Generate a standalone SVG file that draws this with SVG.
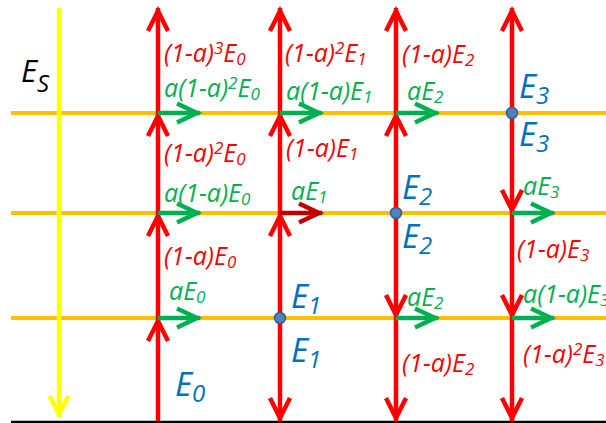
<svg xmlns="http://www.w3.org/2000/svg" width="606" height="423" viewBox="0 0 606 423">
<style>
text{font-family:"Open Sans","Liberation Sans",sans-serif;font-style:italic;font-size:25px}
.r{fill:#FF0000}.g{fill:#00B050}.b{fill:#0070C0;font-size:33px}.k{fill:#000;font-size:31px}
.s{font-size:17px}.bs{font-size:24px}
.red{stroke:#FF0000;stroke-width:4.5;fill:none}
.grn{stroke:#00B050;stroke-width:4.5;fill:none}
.drd{stroke:#C00000;stroke-width:4.5;fill:none}
.org{stroke:#FFC000;stroke-width:4;fill:none}
.dot{fill:#4F81BD;stroke:#385D8A;stroke-width:1.5}
</style>
<defs>
<marker id="mr" viewBox="-26 -14 30 28" refX="0" refY="0" markerWidth="30" markerHeight="28" markerUnits="userSpaceOnUse" orient="auto"><path d="M-23,-10 L-3,0 L-23,10" fill="none" stroke="#FF0000" stroke-width="4.5"/></marker>
<marker id="mg" viewBox="-26 -14 30 28" refX="0" refY="0" markerWidth="30" markerHeight="28" markerUnits="userSpaceOnUse" orient="auto"><path d="M-23,-9.5 L-3,0 L-23,9.5" fill="none" stroke="#00B050" stroke-width="4.5"/></marker>
<marker id="md" viewBox="-26 -14 30 28" refX="0" refY="0" markerWidth="30" markerHeight="28" markerUnits="userSpaceOnUse" orient="auto"><path d="M-23,-9.5 L-3,0 L-23,9.5" fill="none" stroke="#C00000" stroke-width="4.5"/></marker>
<marker id="my" viewBox="-26 -14 30 28" refX="0" refY="0" markerWidth="30" markerHeight="28" markerUnits="userSpaceOnUse" orient="auto"><path d="M-21,-9.5 L-3,0 L-21,9.5" fill="none" stroke="#FFFF00" stroke-width="4.5"/></marker>
</defs>
<g id="layers">
<line x1="11" y1="422" x2="606" y2="422" stroke="#000" stroke-width="2.5"/>
<line class="org" x1="11" y1="113" x2="606" y2="113"/>
<line class="org" x1="11" y1="213" x2="606" y2="213"/>
<line class="org" x1="11" y1="318" x2="606" y2="318"/>
</g>
<g id="connectors">
<line x1="59" y1="8" x2="59" y2="417" stroke="#FFFF00" stroke-width="4.5" marker-end="url(#my)"/>
<line class="red" x1="158" y1="421" x2="158" y2="318" marker-end="url(#mr)"/>
<line class="red" x1="158" y1="318" x2="158" y2="213" marker-end="url(#mr)"/>
<line class="red" x1="158" y1="213" x2="158" y2="113" marker-end="url(#mr)"/>
<line class="red" x1="158" y1="113" x2="158" y2="8" marker-end="url(#mr)"/>
<line class="red" x1="280" y1="318" x2="280" y2="421" marker-end="url(#mr)"/>
<line class="red" x1="280" y1="318" x2="280" y2="213" marker-end="url(#mr)"/>
<line class="red" x1="280" y1="213" x2="280" y2="113" marker-end="url(#mr)"/>
<line class="red" x1="280" y1="113" x2="280" y2="8" marker-end="url(#mr)"/>
<line class="red" x1="396" y1="213" x2="396" y2="113" marker-end="url(#mr)"/>
<line class="red" x1="396" y1="113" x2="396" y2="8" marker-end="url(#mr)"/>
<line class="red" x1="396" y1="213" x2="396" y2="318" marker-end="url(#mr)"/>
<line class="red" x1="396" y1="318" x2="396" y2="421" marker-end="url(#mr)"/>
<line class="red" x1="512" y1="113" x2="512" y2="8" marker-end="url(#mr)"/>
<line class="red" x1="512" y1="113" x2="512" y2="213" marker-end="url(#mr)"/>
<line class="red" x1="512" y1="213" x2="512" y2="318" marker-end="url(#mr)"/>
<line class="red" x1="512" y1="318" x2="512" y2="421" marker-end="url(#mr)"/>
<line class="grn" x1="158" y1="113" x2="200" y2="113" marker-end="url(#mg)"/>
<line class="grn" x1="280" y1="113" x2="322" y2="113" marker-end="url(#mg)"/>
<line class="grn" x1="396" y1="113" x2="438" y2="113" marker-end="url(#mg)"/>
<line class="grn" x1="158" y1="213" x2="200" y2="213" marker-end="url(#mg)"/>
<line class="drd" x1="280" y1="213" x2="322" y2="213" marker-end="url(#md)"/>
<line class="grn" x1="512" y1="213" x2="554" y2="213" marker-end="url(#mg)"/>
<line class="grn" x1="158" y1="318" x2="200" y2="318" marker-end="url(#mg)"/>
<line class="grn" x1="396" y1="318" x2="438" y2="318" marker-end="url(#mg)"/>
<line class="grn" x1="512" y1="318" x2="554" y2="318" marker-end="url(#mg)"/>
</g>
<g id="nodes">
<circle class="dot" cx="280" cy="318" r="5.5"/>
<circle class="dot" cx="396" cy="213" r="5.5"/>
<circle class="dot" cx="512" cy="113" r="5.5"/>
</g>
<g id="label-Es"><text class="k" x="21" y="82">E<tspan class="bs" dy="10">S</tspan></text></g>
<g id="col0">
<text class="r" x="164" y="62">(1-a)<tspan class="s" dy="-8">3</tspan><tspan dy="8">E</tspan><tspan class="s" dy="3">0</tspan></text>
<text class="g" x="164" y="97">a(1-a)<tspan class="s" dy="-8">2</tspan><tspan dy="8">E</tspan><tspan class="s" dy="3">0</tspan></text>
<text class="r" x="164" y="162">(1-a)<tspan class="s" dy="-8">2</tspan><tspan dy="8">E</tspan><tspan class="s" dy="3">0</tspan></text>
<text class="g" x="164" y="202">a(1-a)E<tspan class="s" dy="3">0</tspan></text>
<text class="r" x="164" y="265">(1-a)E<tspan class="s" dy="3">0</tspan></text>
<text class="g" x="169" y="300">aE<tspan class="s" dy="3">0</tspan></text>
<text class="b" x="175" y="396">E<tspan class="bs" dy="6">0</tspan></text>
</g>
<g id="col1">
<text class="r" x="285" y="62">(1-a)<tspan class="s" dy="-8">2</tspan><tspan dy="8">E</tspan><tspan class="s" dy="3">1</tspan></text>
<text class="g" x="286" y="100">a(1-a)E<tspan class="s" dy="3">1</tspan></text>
<text class="r" x="286" y="157">(1-a)E<tspan class="s" dy="3">1</tspan></text>
<text class="g" x="291" y="200">aE<tspan class="s" dy="3">1</tspan></text>
<text class="b" x="291" y="308">E<tspan class="bs" dy="6">1</tspan></text>
<text class="b" x="291" y="362">E<tspan class="bs" dy="6">1</tspan></text>
</g>
<g id="col2">
<text class="r" x="402" y="63">(1-a)E<tspan class="s" dy="3">2</tspan></text>
<text class="g" x="407" y="100">aE<tspan class="s" dy="3">2</tspan></text>
<text class="b" x="402" y="199">E<tspan class="bs" dy="6">2</tspan></text>
<text class="b" x="402" y="248">E<tspan class="bs" dy="6">2</tspan></text>
<text class="g" x="407" y="306">aE<tspan class="s" dy="3">2</tspan></text>
<text class="r" x="402" y="372">(1-a)E<tspan class="s" dy="3">2</tspan></text>
</g>
<g id="col3">
<text class="b" x="519" y="98">E<tspan class="bs" dy="6">3</tspan></text>
<text class="b" x="519" y="146">E<tspan class="bs" dy="6">3</tspan></text>
<text class="g" x="523" y="195">aE<tspan class="s" dy="3">3</tspan></text>
<text class="r" x="517" y="258">(1-a)E<tspan class="s" dy="3">3</tspan></text>
<text class="g" x="523" y="303">a(1-a)E<tspan class="s" dy="3">3</tspan></text>
<text class="r" x="523" y="363">(1-a)<tspan class="s" dy="-8">2</tspan><tspan dy="8">E</tspan><tspan class="s" dy="3">3</tspan></text>
</g>
</svg>
